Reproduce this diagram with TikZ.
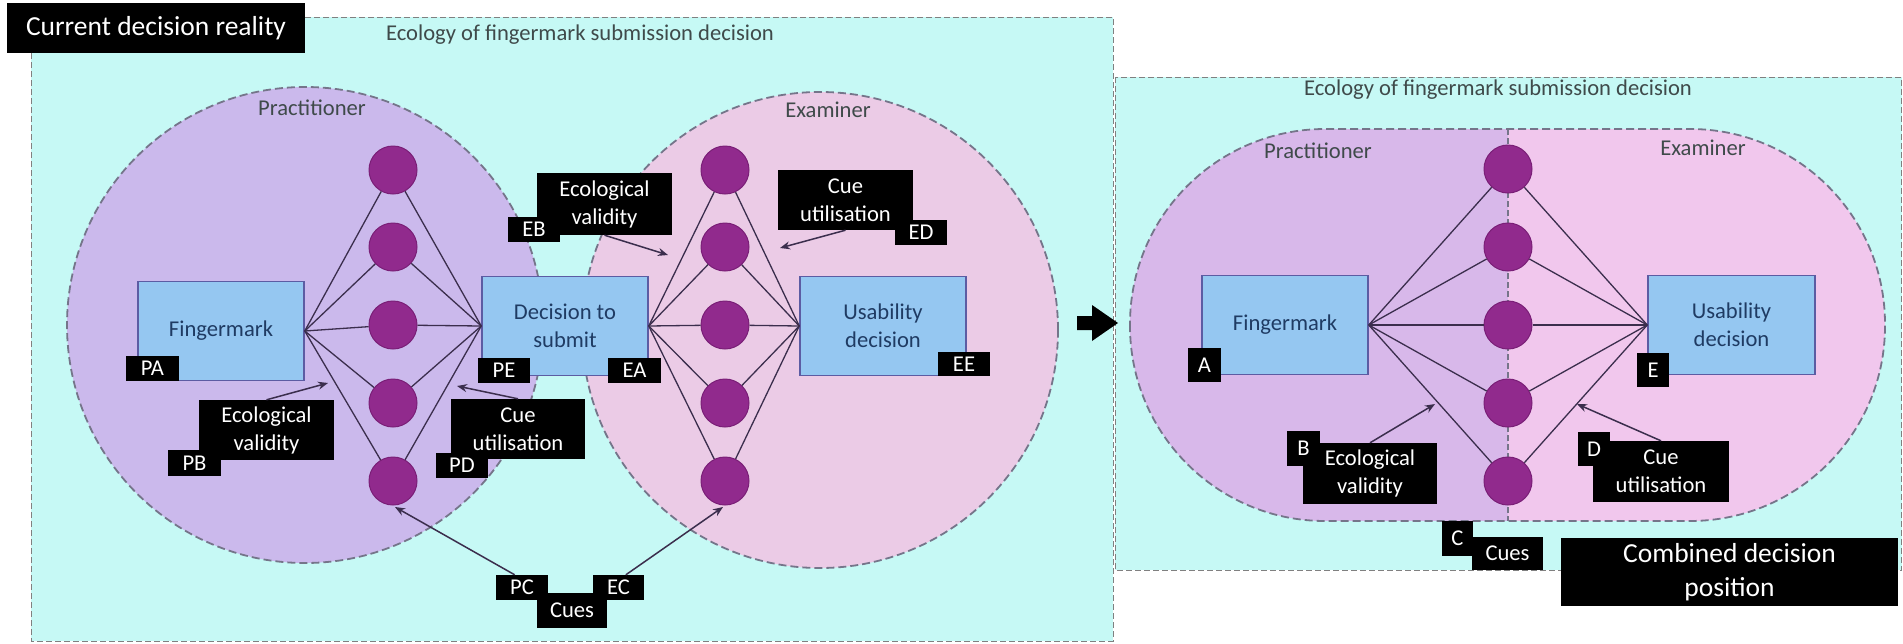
\documentclass[tikz,border=0pt]{standalone}
\usepackage{xcolor}
\usepackage{fontspec}
\setmainfont{Carlito}
\usepackage{tikz}
\usetikzlibrary{arrows.meta}

\definecolor{ecology}{HTML}{C6F9F5}
\definecolor{practitioner}{HTML}{CBB9EC}
\definecolor{examiner}{HTML}{EBCBE6}
\definecolor{practitionerR}{HTML}{D8B8EA}
\definecolor{examinerR}{HTML}{F1C7ED}
\definecolor{cuefill}{HTML}{912A8D}
\definecolor{cuedraw}{HTML}{7A1F77}
\definecolor{boxfill}{HTML}{95C7F1}
\definecolor{boxdraw}{HTML}{5C5CA3}
\definecolor{boxtext}{HTML}{1F3B63}
\definecolor{linkcol}{HTML}{3B2E4D}
\definecolor{zonedash}{HTML}{75758A}
\definecolor{greytext}{HTML}{3F4A4A}

\newcommand{\bigfont}{\fontsize{27.5}{34}\selectfont}
\newcommand{\midfont}{\fontsize{22.6}{28}\selectfont}

\begin{document}
\begin{tikzpicture}[x=1pt,y=-1pt]
  \tikzstyle{panel}=[draw=gray,fill=ecology,line width=1pt,dash pattern=on 6pt off 3pt]
  \tikzstyle{zone}=[circle,draw=zonedash,line width=1.8pt,dash pattern=on 8pt off 4pt,minimum size=476pt,inner sep=0pt]
  \tikzstyle{cue}=[circle,fill=cuefill,draw=cuedraw,line width=1pt,minimum size=48pt,inner sep=0pt]
  \tikzstyle{infobox}=[rectangle,fill=boxfill,draw=boxdraw,line width=1.5pt,minimum width=166pt,minimum height=99pt,text=boxtext,font=\midfont,align=center]
  \tikzstyle{blacktag}=[rectangle,fill=black,text=white,inner sep=0pt,font=\midfont,align=center]
  \tikzstyle{link}=[draw=linkcol,line width=1.3pt]
  \tikzstyle{pointer}=[draw=linkcol,line width=1.5pt,-{Stealth[length=10pt,width=8pt]}]
  \tikzstyle{heading}=[text=greytext,font=\midfont,anchor=base]

  \useasboundingbox (0,0) rectangle (1903,643);

  % current decision reality
  \draw[panel] (31,17) rectangle (1113,641);
  \node[heading] (ecoL) at (580,40) {Ecology of fingermark submission decision};
  \node[zone,fill=practitioner] (pracZone) at (305,325) {};
  \node[zone,fill=examiner] (examZone) at (820,330) {};
  \node[heading] (pracL) at (312,115) {Practitioner};
  \node[heading] (examL) at (828,117) {Examiner};

  \node[infobox] (finger) at (221,331) {Fingermark};
  \node[infobox] (submit) at (565,326) {Decision to\\submit};
  \node[infobox] (usable) at (883,326) {Usability\\decision};

  \node[cue] (p1) at (393,170) {};
  \node[cue] (p2) at (393,247) {};
  \node[cue] (p3) at (393,325) {};
  \node[cue] (p4) at (393,403) {};
  \node[cue] (p5) at (393,481) {};
  \node[cue] (e1) at (725,170) {};
  \node[cue] (e2) at (725,247) {};
  \node[cue] (e3) at (725,325) {};
  \node[cue] (e4) at (725,403) {};
  \node[cue] (e5) at (725,481) {};

  \draw[link] (finger.east) -- (p1) -- (submit.west);
  \draw[link] (finger.east) -- (p2) -- (submit.west);
  \draw[link] (finger.east) -- (p3) -- (submit.west);
  \draw[link] (finger.east) -- (p4) -- (submit.west);
  \draw[link] (finger.east) -- (p5) -- (submit.west);
  \draw[link] (submit.east) -- (e1) -- (usable.west);
  \draw[link] (submit.east) -- (e2) -- (usable.west);
  \draw[link] (submit.east) -- (e3) -- (usable.west);
  \draw[link] (submit.east) -- (e4) -- (usable.west);
  \draw[link] (submit.east) -- (e5) -- (usable.west);

  \node[blacktag,minimum width=135pt,minimum height=60pt] (ecoPB) at (266.5,430) {Ecological\\validity};
  \node[blacktag,minimum width=134pt,minimum height=60pt] (cuePD) at (518,429) {Cue\\utilisation};
  \node[blacktag,minimum width=135pt,minimum height=62pt] (ecoEB) at (604.5,204) {Ecological\\validity};
  \node[blacktag,minimum width=135pt,minimum height=60pt] (cueED) at (845.5,200) {Cue\\utilisation};
  \node[blacktag,minimum width=70pt,minimum height=35pt] (cuesC) at (572,610.5) {Cues};
  \node[blacktag,minimum width=53pt,minimum height=25pt] (pa) at (152.5,368.5) {PA};
  \node[blacktag,minimum width=53pt,minimum height=26pt] (pb) at (194.5,463) {PB};
  \node[blacktag,minimum width=52pt,minimum height=25pt] (pd) at (462,465.5) {PD};
  \node[blacktag,minimum width=52pt,minimum height=25pt] (pe) at (504,370.5) {PE};
  \node[blacktag,minimum width=53pt,minimum height=25pt] (ea) at (634.5,370.5) {EA};
  \node[blacktag,minimum width=52pt,minimum height=25pt] (eb) at (534,229.5) {EB};
  \node[blacktag,minimum width=52pt,minimum height=25pt] (ed) at (921,232.5) {ED};
  \node[blacktag,minimum width=52pt,minimum height=24pt] (ee) at (964,364) {EE};
  \node[blacktag,minimum width=52pt,minimum height=25pt] (pc) at (522,587.5) {PC};
  \node[blacktag,minimum width=51pt,minimum height=25pt] (ec) at (618.5,587.5) {EC};

  \coordinate (pbTip) at (328,383);
  \coordinate (pdTip) at (457,386);
  \coordinate (ebTip) at (668,255);
  \coordinate (edTip) at (780,248);
  \coordinate (pcTip) at (395,507);
  \coordinate (ecTip) at (723,507);
  \draw[pointer] (ecoPB.north) -- (pbTip);
  \draw[pointer] (cuePD.north) -- (pdTip);
  \draw[pointer] (ecoEB.south) -- (ebTip);
  \draw[pointer] (cueED.south) -- (edTip);
  \draw[pointer] (pc.120) -- (pcTip);
  \draw[pointer] (ec.60) -- (ecTip);

  % combined decision position
  \draw[panel] (1115,77) rectangle (1901.5,570);
  \node[heading] (ecoR) at (1498,95) {Ecology of fingermark submission decision};
  \begin{scope}
    \clip[rounded corners=195pt] (1130,129) rectangle (1885,521);
    \fill[practitionerR] (1130,129) rectangle (1508,521);
    \fill[examinerR] (1508,129) rectangle (1885,521);
  \end{scope}
  \draw[draw=zonedash,line width=1.8pt,dash pattern=on 8pt off 4pt,rounded corners=195pt] (1130,129) rectangle (1885,521);
  \draw[draw=zonedash,line width=1.2pt,dash pattern=on 6pt off 3pt] (1508,129) -- (1508,521);
  \node[heading] (pracR) at (1318,158) {Practitioner};
  \node[heading] (examR) at (1703,155) {Examiner};

  \node[infobox] (finger2) at (1285,325) {Fingermark};
  \node[infobox,minimum width=167pt] (usable2) at (1731.5,325) {Usability\\decision};

  \node[cue] (c1) at (1508,169) {};
  \node[cue] (c2) at (1508,247) {};
  \node[cue] (c3) at (1508,325) {};
  \node[cue] (c4) at (1508,403) {};
  \node[cue] (c5) at (1508,481) {};

  \draw[link] (finger2.east) -- (c1) -- (usable2.west);
  \draw[link] (finger2.east) -- (c2) -- (usable2.west);
  \draw[link] (finger2.east) -- (c3) -- (usable2.west);
  \draw[link] (finger2.east) -- (c4) -- (usable2.west);
  \draw[link] (finger2.east) -- (c5) -- (usable2.west);

  \node[blacktag,minimum width=134pt,minimum height=61pt] (ecoB) at (1370,473.5) {Ecological\\validity};
  \node[blacktag,minimum width=136pt,minimum height=61pt] (cueD) at (1661,471.5) {Cue\\utilisation};
  \node[blacktag,minimum width=71pt,minimum height=33pt] (cuesR) at (1507.5,553.5) {Cues};
  \node[blacktag,minimum width=33pt,minimum height=34pt] (tagA) at (1204.5,365) {A};
  \node[blacktag,minimum width=33pt,minimum height=35pt] (tagB) at (1303.5,448.5) {B};
  \node[blacktag,minimum width=31pt,minimum height=35pt] (tagC) at (1457.5,538.5) {C};
  \node[blacktag,minimum width=32pt,minimum height=34pt] (tagD) at (1594,449) {D};
  \node[blacktag,minimum width=32pt,minimum height=34pt] (tagE) at (1653,370) {E};

  \coordinate (bTip) at (1435,404);
  \coordinate (dTip) at (1577,404);
  \draw[pointer] (ecoB.north) -- (bTip);
  \draw[pointer] (cueD.north) -- (dTip);

  % arrow between the two panels
  \fill (1077,316) -- (1092,316) -- (1092,305) -- (1118,323) -- (1092,341) -- (1092,330) -- (1077,330) -- cycle;

  \node[blacktag,minimum width=298pt,minimum height=50pt,font=\bigfont] (title) at (156,28) {Current decision reality};
  \node[blacktag,minimum width=337pt,minimum height=68pt,font=\bigfont] (combined) at (1729.5,572) {Combined decision\\position};
\end{tikzpicture}
\end{document}
